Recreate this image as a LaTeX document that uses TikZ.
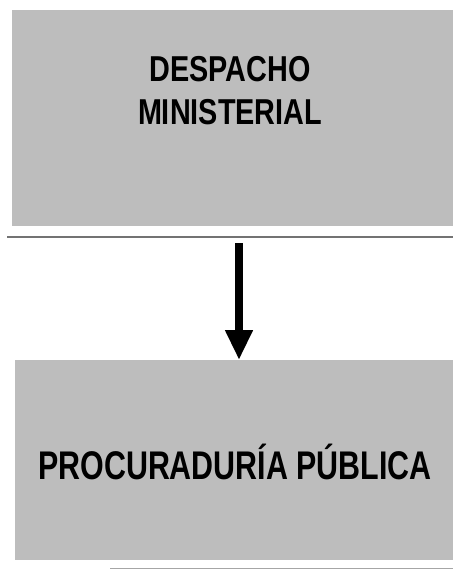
\documentclass[tikz,border=0pt]{standalone}
\usepackage{fontspec}
\setmainfont{Liberation Sans}
\newfontfamily\labfont[FakeStretch=0.8]{Liberation Sans}
\newfontfamily\labfontb[FakeStretch=0.76]{Liberation Sans}
\usetikzlibrary{arrows.meta}
\tikzset{
  panel/.style={fill=black!26, draw=none, inner sep=0pt, anchor=north west},
  lab/.style={text=black, inner sep=0pt, align=center},
  rule/.style={draw=black!55, line width=1.2pt},
  flow/.style={line width=8pt, -{Triangle[width=26pt,length=30pt]}}
}
\begin{document}
\begin{tikzpicture}[x=1pt,y=-1pt]
\useasboundingbox[fill=white] (0,0) rectangle (453,570);
\node[panel, minimum width=441pt, minimum height=216pt] (top) at (12,10) {};
\node[panel, minimum width=438pt, minimum height=200pt] (bot) at (15,360) {};
\node[lab, font=\labfont\bfseries\fontsize{36}{43}\selectfont] (t1) at (230,91) {DESPACHO\\MINISTERIAL};
\node[lab, font=\labfontb\bfseries\fontsize{40}{40}\selectfont] (t2) at (235,462) {PROCURADURÍA PÚBLICA};
\coordinate (l1) at (7,237);
\coordinate (l2) at (453,237);
\draw[rule] (l1) -- (l2);
\coordinate (l3) at (110,568);
\coordinate (l4) at (453,568);
\draw[draw=black!35, line width=0.6pt] (l3) -- (l4);
\coordinate (a0) at (239,243);
\draw[flow] (a0) -- (a0 |- bot.north);
\end{tikzpicture}
\end{document}
